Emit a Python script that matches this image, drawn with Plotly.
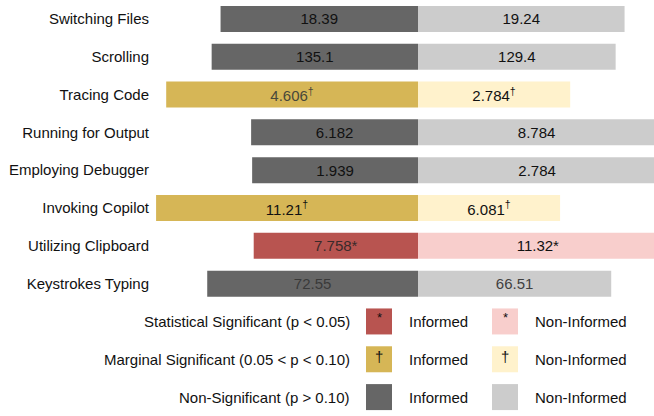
import plotly.graph_objects as go

# ---- data ----
activities = ["Switching Files", "Scrolling", "Tracing Code", "Running for Output",
              "Employing Debugger", "Invoking Copilot", "Utilizing Clipboard", "Keystrokes Typing"]
informed = [18.39, 135.1, 4.606, 6.182, 1.939, 11.21, 7.758, 72.55]
non_informed = [19.24, 129.4, 2.784, 8.784, 2.784, 6.081, 11.32, 66.51]
significance = ["ns", "ns", "marg", "ns", "ns", "marg", "sig", "ns"]

legend_labels = ["Statistical Significant (p < 0.05)",
                 "Marginal Significant (0.05 < p < 0.10)",
                 "Non-Significant (p > 0.10)"]
legend_keys = ["sig", "marg", "ns"]

# ---- styles ----
col_inf = {"sig": "#b85450", "marg": "#d6b656", "ns": "#666666"}
col_non = {"sig": "#f8cecc", "marg": "#fff2cc", "ns": "#cccccc"}
mark = {"sig": "*", "marg": "<sup>†</sup>", "ns": ""}
mark_sym = {"sig": "*", "marg": "†", "ns": ""}
txt_inf = ["#111111", "#111111", "#48483a", "#111111", "#111111", "#111111", "#3a2a2a", "#3a3a3a"]
txt_non = ["#111111", "#111111", "#111111", "#111111", "#111111", "#111111", "#111111", "#404040"]

FONT = "Liberation Sans, Arial, sans-serif"
FS = 15

# shares of each row total (diverging, normalized per row)
tot = [a + b for a, b in zip(informed, non_informed)]
inf_share = [-a / t for a, t in zip(informed, tot)]
non_share = [b / t for b, t in zip(non_informed, tot)]

fig = go.Figure()
fig.add_trace(go.Bar(
    y=activities, x=inf_share, orientation="h",
    marker=dict(color=[col_inf[s] for s in significance], line=dict(width=0)),
    text=[f"{v}{mark[s]}" for v, s in zip(informed, significance)],
    textposition="inside", insidetextanchor="middle", textangle=0,
    textfont=dict(family=FONT, size=FS, color=txt_inf),
    hoverinfo="skip", showlegend=False,
))
fig.add_trace(go.Bar(
    y=activities, x=non_share, orientation="h",
    marker=dict(color=[col_non[s] for s in significance], line=dict(width=0)),
    text=[f"{v}{mark[s]}" for v, s in zip(non_informed, significance)],
    textposition="inside", insidetextanchor="middle", textangle=0,
    textfont=dict(family=FONT, size=FS, color=txt_non),
    hoverinfo="skip", showlegend=False,
))

L, C, R, SCALE = 156, 418, 654, 404.0
W = R - L
nrows = 11
fig.update_layout(
    width=654, height=416,
    margin=dict(l=L, r=0, t=0, b=0),
    paper_bgcolor="white", plot_bgcolor="white",
    barmode="relative", bargap=0.312,
    font=dict(family=FONT, size=FS, color="#111111"),
    xaxis=dict(range=[-(C - L) / SCALE, (R - C) / SCALE], visible=False, fixedrange=True),
    yaxis=dict(domain=[3 / nrows, 1], autorange="reversed", showgrid=False,
               zeroline=False, showline=False, ticks="", ticklabelstandoff=6,
               tickfont=dict(family=FONT, size=FS, color="#111111"),
               categoryorder="array", categoryarray=activities, fixedrange=True),
    uniformtext=dict(mode=False),
)

# ---- custom legend ----
def px(x):
    return (x - L) / W

shapes, anns = [], []
for i, (lab, k) in enumerate(zip(legend_labels, legend_keys)):
    yc = 1 - (8 + i + 0.5) / nrows
    anns.append(dict(x=px(352), y=yc, xref="paper", yref="paper", text=lab,
                     showarrow=False, xanchor="right", yanchor="middle",
                     font=dict(family=FONT, size=FS, color="#111111")))
    for cx, col, tx, tlab in [(379, col_inf[k], 407, "Informed"),
                              (505, col_non[k], 533, "Non-Informed")]:
        shapes.append(dict(type="rect", xref="paper", yref="paper",
                           xsizemode="pixel", ysizemode="pixel",
                           xanchor=px(cx), yanchor=yc, x0=-13, x1=13, y0=-13, y1=13,
                           fillcolor=col, line=dict(width=0)))
        if mark_sym[k]:
            anns.append(dict(x=px(cx), y=yc, xref="paper", yref="paper", text=mark_sym[k],
                             showarrow=False, xanchor="center", yanchor="middle",
                             yshift=4 if k == "sig" else 3,
                             font=dict(family=FONT, size=13 if k == "sig" else 15, color="#111111")))
        anns.append(dict(x=px(tx), y=yc, xref="paper", yref="paper", text=tlab,
                         showarrow=False, xanchor="left", yanchor="middle",
                         font=dict(family=FONT, size=FS, color="#111111")))

fig.update_layout(shapes=shapes, annotations=anns)
fig.write_html("out.html", config={"displayModeBar": False},
               post_script="document.body.style.margin='0';document.body.style.padding='0';")
